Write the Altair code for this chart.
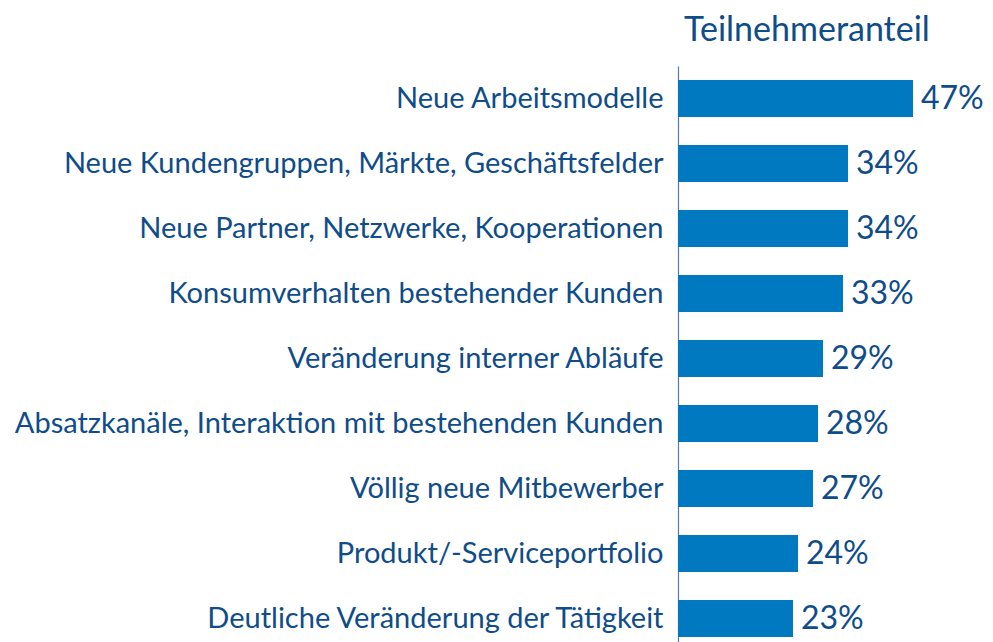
import altair as alt
import pandas as pd

categories = [
    "Neue Arbeitsmodelle",
    "Neue Kundengruppen, Märkte, Geschäftsfelder",
    "Neue Partner, Netzwerke, Kooperationen",
    "Konsumverhalten bestehender Kunden",
    "Veränderung interner Abläufe",
    "Absatzkanäle, Interaktion mit bestehenden Kunden",
    "Völlig neue Mitbewerber",
    "Produkt/-Serviceportfolio",
    "Deutliche Veränderung der Tätigkeit",
]
values = [47, 34, 34, 33, 29, 28, 27, 24, 23]
labels = [f"{v}%" for v in values]

df = pd.DataFrame({"cat": categories, "val": values, "lab": labels})

TEXT = "#0f4c8a"
BAR = "#0079c1"
FONT = "Lato"

y = alt.Y("cat:N", sort=categories, title=None,
          scale=alt.Scale(paddingInner=0.43, paddingOuter=0.215),
          axis=alt.Axis(labelFont=FONT, labelFontSize=29, labelColor=TEXT,
                        labelPadding=15, ticks=False, domainColor="#5a7aa5",
                        domainWidth=1.2, labelLimit=900))
x = alt.X("val:Q", scale=alt.Scale(domain=[0, 60]), axis=None)

bars = alt.Chart(df).mark_bar(color=BAR).encode(x=x, y=y)
text = alt.Chart(df).mark_text(align="left", baseline="middle", dx=8,
                               font=FONT, fontSize=32, color=TEXT).encode(
    x=x, y=y, text="lab:N")

chart = (bars + text).properties(
    width=300, height=585,
    title=alt.TitleParams("Teilnehmeranteil", anchor="start", frame="group",
                          font=FONT, fontSize=34, fontWeight="normal",
                          color=TEXT, offset=18, dx=6),
    padding={"left": 670, "top": 58, "right": 7, "bottom": 0},
    autosize=alt.AutoSizeParams(type="none"),
).configure_view(stroke=None)

chart.save("out.html", embed_options={"renderer": "svg", "actions": False})
